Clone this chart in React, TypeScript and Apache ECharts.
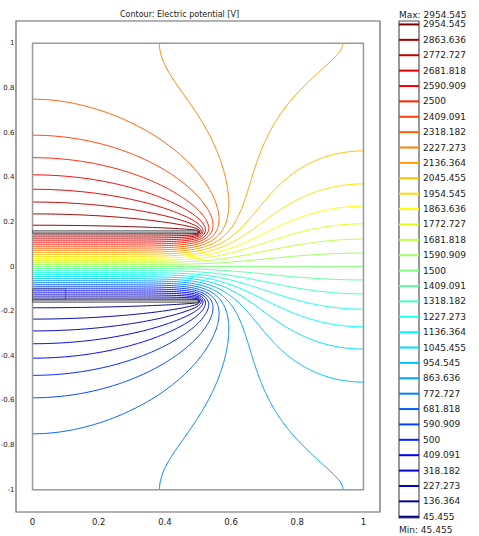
import React, { useEffect, useRef } from "react";
import * as echarts from "echarts";

// ---- data ----
const LEVEL_LABELS = [
  "45.455", "136.364", "227.273", "318.182", "409.091", "500", "590.909", "681.818",
  "772.727", "863.636", "954.545", "1045.455", "1136.364", "1227.273", "1318.182",
  "1409.091", "1500", "1590.909", "1681.818", "1772.727", "1863.636", "1954.545",
  "2045.455", "2136.364", "2227.273", "2318.182", "2409.091", "2500", "2590.909",
  "2681.818", "2772.727", "2863.636", "2954.545",
];
const LEVELS = LEVEL_LABELS.map((s) => parseFloat(s));
const X_TICKS = [0, 0.2, 0.4, 0.6, 0.8, 1];
const Y_TICKS = [-1, -0.8, -0.6, -0.4, -0.2, 0, 0.2, 0.4, 0.6, 0.8, 1];
const DOMAIN_X = [0, 1];
const DOMAIN_Y = [-1, 1];
const ELECTRODE_X = [0, 0.5];
const TOP_ELECTRODE_Y = [0.15, 0.16];
const BOTTOM_ELECTRODE_Y = [-0.16, -0.15];
const ELECTRODE_V = [3000, 0];
const SUBDOMAIN_X = [0, 0.1];
const SUBDOMAIN_Y = [-0.15, -0.1];
const MAX_LABEL = "Max: 2954.545";
const MIN_LABEL = "Min: 45.455";
const TITLE = "Contour: Electric potential [V]";

const FONT = "DejaVu Sans";

function jet(t: number): string {
  const c = (v: number) => Math.max(0, Math.min(1, v));
  const r = c(1.5 - Math.abs(4 * t - 3));
  const g = c(1.5 - Math.abs(4 * t - 2));
  const b = c(1.5 - Math.abs(4 * t - 1));
  return `rgb(${Math.round(r * 255)},${Math.round(g * 255)},${Math.round(b * 255)})`;
}

type Grid = { nx: number; ny: number; h: number; u: Float64Array };

function sample(g: Grid, x: number, y: number): number {
  const fx = (x - DOMAIN_X[0]) / g.h;
  const fy = (y - DOMAIN_Y[0]) / g.h;
  let i = Math.floor(fx), j = Math.floor(fy);
  if (i >= g.nx - 1) i = g.nx - 2;
  if (j >= g.ny - 1) j = g.ny - 2;
  if (i < 0) i = 0;
  if (j < 0) j = 0;
  const tx = fx - i, ty = fy - j;
  const k = j * g.nx + i;
  const u = g.u;
  return (
    u[k] * (1 - tx) * (1 - ty) +
    u[k + 1] * tx * (1 - ty) +
    u[k + g.nx] * (1 - tx) * ty +
    u[k + g.nx + 1] * tx * ty
  );
}

// Laplace equation in axisymmetric (r = x, z = y) form, insulating outer walls
function solveOn(n: number, prev: Grid | null, iters: number): Grid {
  const h = (DOMAIN_X[1] - DOMAIN_X[0]) / n;
  const nx = n + 1;
  const ny = Math.round((DOMAIN_Y[1] - DOMAIN_Y[0]) / h) + 1;
  const N = nx * ny;
  const u = new Float64Array(N);
  const fixed = new Uint8Array(N);
  const eps = 1e-9;
  for (let j = 0; j < ny; j++) {
    for (let i = 0; i < nx; i++) {
      const k = j * nx + i;
      const x = DOMAIN_X[0] + i * h;
      const y = DOMAIN_Y[0] + j * h;
      u[k] = prev ? sample(prev, x, y) : 1500;
      if (x >= ELECTRODE_X[0] - eps && x <= ELECTRODE_X[1] + eps) {
        if (y >= TOP_ELECTRODE_Y[0] - eps && y <= TOP_ELECTRODE_Y[1] + eps) {
          fixed[k] = 1;
          u[k] = ELECTRODE_V[0];
        } else if (y >= BOTTOM_ELECTRODE_Y[0] - eps && y <= BOTTOM_ELECTRODE_Y[1] + eps) {
          fixed[k] = 1;
          u[k] = ELECTRODE_V[1];
        }
      }
    }
  }
  const cL = new Float64Array(nx);
  const cR = new Float64Array(nx);
  const inv = new Float64Array(nx);
  for (let i = 0; i < nx; i++) {
    if (i === 0) { cL[i] = 0; cR[i] = 4; inv[i] = 1 / 6; }
    else if (i === nx - 1) { cL[i] = 2; cR[i] = 0; inv[i] = 1 / 4; }
    else { cL[i] = (i - 0.5) / i; cR[i] = (i + 0.5) / i; inv[i] = 1 / 4; }
  }
  const w = 2 / (1 + Math.sin(Math.PI * h));
  for (let it = 0; it < iters; it++) {
    for (let j = 0; j < ny; j++) {
      const jd = j > 0 ? -nx : nx;
      const ju = j < ny - 1 ? nx : -nx;
      const base = j * nx;
      for (let i = 0; i < nx; i++) {
        const k = base + i;
        if (fixed[k]) continue;
        const l = i > 0 ? u[k - 1] : 0;
        const r = i < nx - 1 ? u[k + 1] : 0;
        const val = (cL[i] * l + cR[i] * r + u[k + jd] + u[k + ju]) * inv[i];
        u[k] += w * (val - u[k]);
      }
    }
  }
  return { nx, ny, h, u };
}

function contourLines(g: Grid, L: number): number[][][] {
  const { nx, ny, h, u } = g;
  const N = nx * ny;
  const segA: number[] = [];
  const segB: number[] = [];
  const at1 = new Int32Array(2 * N).fill(-1);
  const at2 = new Int32Array(2 * N).fill(-1);
  const addSeg = (a: number, b: number) => {
    const s = segA.length;
    segA.push(a);
    segB.push(b);
    if (at1[a] < 0) at1[a] = s; else at2[a] = s;
    if (at1[b] < 0) at1[b] = s; else at2[b] = s;
  };
  for (let j = 0; j < ny - 1; j++) {
    for (let i = 0; i < nx - 1; i++) {
      const k = j * nx + i;
      const v0 = u[k], v1 = u[k + 1], v2 = u[k + nx + 1], v3 = u[k + nx];
      const c = (v0 > L ? 1 : 0) | (v1 > L ? 2 : 0) | (v2 > L ? 4 : 0) | (v3 > L ? 8 : 0);
      if (c === 0 || c === 15) continue;
      const eB = 2 * k, eR = 2 * (k + 1) + 1, eT = 2 * (k + nx), eL = 2 * k + 1;
      if (c === 5 || c === 10) {
        const center = (v0 + v1 + v2 + v3) / 4 > L;
        if ((c === 5) === center) {
          addSeg(eB, eR);
          addSeg(eT, eL);
        } else {
          addSeg(eL, eB);
          addSeg(eR, eT);
        }
        continue;
      }
      const es: number[] = [];
      if ((c & 1) !== ((c >> 1) & 1)) es.push(eB);
      if (((c >> 1) & 1) !== ((c >> 2) & 1)) es.push(eR);
      if (((c >> 2) & 1) !== ((c >> 3) & 1)) es.push(eT);
      if (((c >> 3) & 1) !== (c & 1)) es.push(eL);
      addSeg(es[0], es[1]);
    }
  }
  const pt = (e: number): number[] => {
    const k = e >> 1;
    const i = k % nx;
    const j = (k - i) / nx;
    let a: number, b: number, dx = 0, dy = 0;
    if ((e & 1) === 0) {
      a = u[k]; b = u[k + 1]; dx = 1;
    } else {
      a = u[k]; b = u[k + nx]; dy = 1;
    }
    const t = (L - a) / (b - a);
    return [
      +(DOMAIN_X[0] + (i + dx * t) * h).toFixed(5),
      +(DOMAIN_Y[0] + (j + dy * t) * h).toFixed(5),
    ];
  };
  const used = new Uint8Array(segA.length);
  const other = (s: number, e: number) => (segA[s] === e ? segB[s] : segA[s]);
  const nextSeg = (e: number) => {
    const c1 = at1[e], c2 = at2[e];
    if (c1 >= 0 && !used[c1]) return c1;
    if (c2 >= 0 && !used[c2]) return c2;
    return -1;
  };
  const lines: number[][][] = [];
  for (let s = 0; s < segA.length; s++) {
    if (used[s]) continue;
    used[s] = 1;
    const fwd: number[] = [segB[s]];
    let e = segB[s];
    for (;;) {
      const n2 = nextSeg(e);
      if (n2 < 0) break;
      used[n2] = 1;
      e = other(n2, e);
      fwd.push(e);
    }
    const bwd: number[] = [];
    e = segA[s];
    for (;;) {
      const n2 = nextSeg(e);
      if (n2 < 0) break;
      used[n2] = 1;
      e = other(n2, e);
      bwd.push(e);
    }
    const edges = bwd.reverse().concat([segA[s]], fwd);
    lines.push(edges.map(pt));
  }
  return lines;
}

function buildOption(): any {
  let g = solveOn(25, null, 3000);
  g = solveOn(50, g, 2000);
  g = solveOn(100, g, 1500);
  g = solveOn(200, g, 1000);

  const vmin = LEVELS[0];
  const vmax = LEVELS[LEVELS.length - 1];
  const series: any[] = [];
  LEVELS.forEach((L) => {
    const color = jet((L - vmin) / (vmax - vmin));
    for (const line of contourLines(g, L)) {
      series.push({
        type: "line",
        xAxisIndex: 0,
        yAxisIndex: 0,
        data: line,
        symbol: "none",
        showSymbol: false,
        silent: true,
        lineStyle: { width: 1, color },
        z: 2,
      });
    }
    series.push({
      type: "line",
      xAxisIndex: 1,
      yAxisIndex: 1,
      data: [[0, L], [1, L]],
      symbol: "none",
      silent: true,
      lineStyle: { width: 2, color },
      z: 2,
    });
  });

  const rectItem = (fill: string, stroke: string, lw: number) => (params: any, api: any) => {
    const p0 = api.coord([api.value(0), api.value(3)]);
    const p1 = api.coord([api.value(2), api.value(1)]);
    return {
      type: "rect",
      shape: { x: p0[0], y: p0[1], width: p1[0] - p0[0], height: p1[1] - p0[1] },
      style: { fill, stroke, lineWidth: lw },
    };
  };

  series.push({
    type: "custom",
    xAxisIndex: 0,
    yAxisIndex: 0,
    silent: true,
    data: [[DOMAIN_X[0], DOMAIN_Y[0], DOMAIN_X[1], DOMAIN_Y[1]]],
    renderItem: rectItem("none", "#9a9a9a", 1.5),
    z: 4,
  });
  series.push({
    type: "custom",
    xAxisIndex: 0,
    yAxisIndex: 0,
    silent: true,
    data: [[SUBDOMAIN_X[0], SUBDOMAIN_Y[0], SUBDOMAIN_X[1], SUBDOMAIN_Y[1]]],
    renderItem: rectItem("none", "#555", 0.8),
    z: 5,
  });
  series.push({
    type: "custom",
    xAxisIndex: 0,
    yAxisIndex: 0,
    silent: true,
    data: [
      [ELECTRODE_X[0], TOP_ELECTRODE_Y[0], ELECTRODE_X[1], TOP_ELECTRODE_Y[1]],
      [ELECTRODE_X[0], BOTTOM_ELECTRODE_Y[0], ELECTRODE_X[1], BOTTOM_ELECTRODE_Y[1]],
    ],
    renderItem: rectItem("#cfcfcf", "#444", 0.8),
    z: 6,
  });

  const labelStyle = { fontSize: 9, fontFamily: FONT, color: "#222" };

  return {
    animation: false,
    backgroundColor: "#fff",
    title: {
      text: TITLE,
      left: 120,
      top: 10,
      padding: 0,
      textStyle: { fontSize: 8, fontWeight: "normal", fontFamily: FONT, color: "#222" },
    },
    graphic: [
      { type: "text", x: 399, y: 15, style: { text: MAX_LABEL, fontSize: 9, fontFamily: FONT, fill: "#222", verticalAlign: "middle" } },
      { type: "text", x: 399, y: 530, style: { text: MIN_LABEL, fontSize: 9, fontFamily: FONT, fill: "#222", verticalAlign: "middle" } },
    ],
    grid: [
      { left: 16, top: 21, width: 364, height: 491, show: true, borderColor: "#666", borderWidth: 1.2, backgroundColor: "#fff", containLabel: false, outerBoundsMode: "none" },
      { left: 399, top: 21, width: 20, height: 497, show: true, borderColor: "#555", borderWidth: 1.2, backgroundColor: "#fff", containLabel: false, outerBoundsMode: "none" },
    ],
    xAxis: [
      {
        type: "value",
        gridIndex: 0,
        min: -0.05,
        max: 1.05,
        axisLine: { show: false },
        axisTick: { show: false },
        splitLine: { show: false },
        axisLabel: { ...labelStyle, fontSize: 8.5, margin: 5, customValues: X_TICKS, formatter: (v: number) => String(v) },
      },
      { type: "value", gridIndex: 1, min: 0, max: 1, show: false },
    ],
    yAxis: [
      {
        type: "value",
        gridIndex: 0,
        min: -1.1,
        max: 1.1,
        axisLine: { show: false },
        axisTick: { show: false },
        splitLine: { show: false },
        axisLabel: {
          ...labelStyle,
          fontSize: 7,
          margin: 1.5,
          customValues: Y_TICKS,
          formatter: (v: number) => String(v),
        },
      },
      {
        type: "value",
        gridIndex: 1,
        min: 38,
        max: 2975,
        position: "right",
        axisLine: { show: false },
        axisTick: { show: false },
        splitLine: { show: false },
        axisLabel: {
          ...labelStyle,
          margin: 4,
          customValues: LEVELS,
          formatter: (v: number) => {
            const idx = LEVELS.findIndex((L) => Math.abs(L - v) < 1e-6);
            return idx >= 0 ? LEVEL_LABELS[idx] : "";
          },
        },
      },
    ],
    series,
  };
}

export default function App() {
  const ref = useRef<HTMLDivElement>(null);
  useEffect(() => {
    if (!ref.current) return;
    const chart = echarts.init(ref.current, null, { renderer: "svg" });
    chart.setOption(buildOption());
    return () => chart.dispose();
  }, []);
  return (
    <div
      ref={ref}
      style={{ position: "absolute", left: 0, top: 0, width: 479, height: 536, background: "#fff" }}
    />
  );
}
